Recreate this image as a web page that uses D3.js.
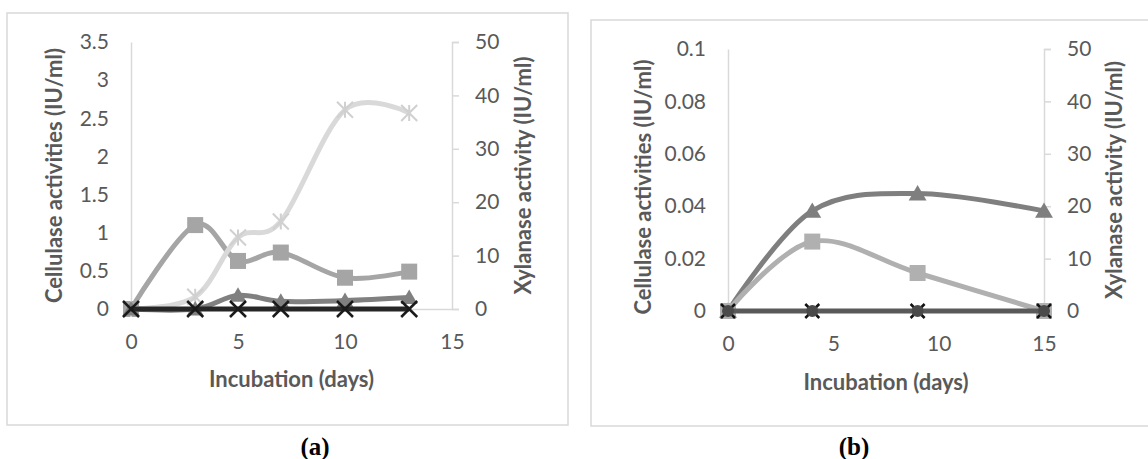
<!DOCTYPE html>
<html>
<head>
<meta charset="utf-8">
<script src="https://cdn.jsdelivr.net/npm/d3@7"></script>
<style>
  body { margin: 0; background: #fff; }
  svg { display: block; }
  text { font-family: Lato, "Open Sans", sans-serif; }
</style>
</head>
<body>
<svg id="chart" width="1148" height="459"></svg>
<script>
// panel (a)
const daysA = [0, 3, 5, 7, 10, 13];
const aSquare = [0, 1.1, 0.63, 0.74, 0.41, 0.49];     // left axis
const aStar = [0, 2.3, 13.4, 16.4, 37.3, 36.7];       // right axis
const aTriangle = [0, 0, 0.18, 0.1, 0.11, 0.15];      // left axis
const aCross = [0, 0, 0, 0, 0, 0];                    // left axis
const leftTicksA = [0, 0.5, 1, 1.5, 2, 2.5, 3, 3.5];

// panel (b)
const daysB = [0, 4, 9, 15];
const bTriangle = [0, 19.1, 22.4, 19.1];              // right axis
const bSquare = [0, 0.0265, 0.0145, 0];               // left axis
const bCross = [0, 0, 0, 0];                          // left axis
const leftTicksB = [0, 0.02, 0.04, 0.06, 0.08, 0.1];

const rightTicks = [0, 10, 20, 30, 40, 50];
const xTicks = [0, 5, 10, 15];

const svg = d3.select("#chart");
const labelColor = "#595959";
const axisColor = "#d9d9d9";
const tickFont = "21px";
const titleFont = "22px";

function star(g, x, y, s, color) {
  const h = s / 2;
  g.append("path")
    .attr("d", `M${x - h},${y - h}L${x + h},${y + h}M${x - h},${y + h}L${x + h},${y - h}M${x},${y - h}L${x},${y + h}`)
    .attr("stroke", color).attr("stroke-width", 2).attr("fill", "none");
}
function cross(g, x, y, s, color) {
  const h = s / 2;
  g.append("path")
    .attr("d", `M${x - h},${y - h}L${x + h},${y + h}M${x - h},${y + h}L${x + h},${y - h}`)
    .attr("stroke", color).attr("stroke-width", 2.5).attr("fill", "none");
}
function square(g, x, y, s, color) {
  g.append("rect").attr("x", x - s / 2).attr("y", y - s / 2)
    .attr("width", s).attr("height", s).attr("fill", color);
}
function triangle(g, x, y, s, color) {
  const h = s / 2;
  g.append("path")
    .attr("d", `M${x},${y - h}L${x + h * 1.05},${y + h * 0.8}L${x - h * 1.05},${y + h * 0.8}Z`)
    .attr("fill", color);
}
function dot(g, x, y, s, color) {
  g.append("circle").attr("cx", x).attr("cy", y).attr("r", s / 2).attr("fill", color);
}

function drawPanel(p) {
  const g = svg.append("g");

  g.append("rect")
    .attr("x", p.box[0]).attr("y", p.box[1])
    .attr("width", p.box[2]).attr("height", p.box[3])
    .attr("fill", "none").attr("stroke", axisColor).attr("stroke-width", 1.5);

  const x = d3.scaleLinear().domain([0, 15]).range([p.x0, p.x1]);
  const yL = d3.scaleLinear().domain([0, p.leftMax]).range([p.y0, p.y1]);
  const yR = d3.scaleLinear().domain([0, 50]).range([p.y0, p.y1]);

  // left axis
  const la = g.append("g").attr("transform", `translate(${p.x0},0)`)
    .call(d3.axisLeft(yL).tickValues(p.leftTicks).tickSize(0).tickPadding(22)
      .tickFormat(d => d3.format("~g")(d)));
  // right axis
  const ra = g.append("g").attr("transform", `translate(${p.x1},0)`)
    .call(d3.axisRight(yR).tickValues(rightTicks).tickSizeInner(7).tickSizeOuter(7).tickPadding(16));
  // bottom axis
  const ba = g.append("g").attr("transform", `translate(0,${p.y0})`)
    .call(d3.axisBottom(x).tickValues(xTicks).tickSize(0).tickPadding(25));

  [la, ra, ba].forEach(a => {
    a.selectAll("path.domain").attr("stroke", axisColor).attr("stroke-width", 1.5);
    a.selectAll(".tick line").attr("stroke", axisColor).attr("stroke-width", 1.5);
    a.selectAll("text").attr("fill", labelColor).style("font-size", tickFont)
      .style("font-family", "Lato, 'Open Sans', sans-serif");
  });

  const cy = (p.y0 + p.y1) / 2;
  g.append("text").attr("transform", `translate(${p.leftTitleX},${cy + p.titleShift}) rotate(-90)`)
    .attr("text-anchor", "middle").attr("dominant-baseline", "central")
    .attr("fill", labelColor).style("font-size", titleFont).style("font-weight", "bold")
    .text("Cellulase activities (IU/ml)");
  g.append("text").attr("transform", `translate(${p.rightTitleX},${cy}) rotate(-90)`)
    .attr("text-anchor", "middle").attr("dominant-baseline", "central")
    .attr("fill", labelColor).style("font-size", titleFont).style("font-weight", "bold")
    .text("Xylanase activity (IU/ml)");
  g.append("text").attr("x", (p.x0 + p.x1) / 2).attr("y", p.xTitleY)
    .attr("text-anchor", "middle").attr("dominant-baseline", "central")
    .attr("fill", labelColor).style("font-size", titleFont).style("font-weight", "bold")
    .text("Incubation (days)");
  g.append("text").attr("x", p.capX).attr("y", 446)
    .attr("text-anchor", "middle").attr("dominant-baseline", "central")
    .style("font-family", "'Liberation Serif', 'Times New Roman', serif")
    .style("font-size", "25px").style("font-weight", "bold").attr("fill", "#000")
    .text(p.caption);

  const line = d3.line().curve(d3.curveCardinal.tension(0));

  p.series.forEach(s => {
    const y = s.axis === "right" ? yR : yL;
    const pts = p.days.map((d, i) => [x(d), y(s.values[i])]);
    g.append("path").attr("d", line(pts)).attr("fill", "none")
      .attr("stroke", s.color).attr("stroke-width", s.width || 5)
      .attr("stroke-linejoin", "round");
    pts.forEach(pt => s.markers.forEach(m => m.fn(g, pt[0], pt[1], m.size, m.color)));
  });
}

drawPanel({
  box: [7, 13, 561, 412],
  x0: 131, x1: 452, y0: 309, y1: 42,
  leftMax: 3.5, leftTicks: leftTicksA,
  days: daysA,
  leftTitleX: 53, rightTitleX: 522, titleShift: 0, xTitleY: 378,
  capX: 315, caption: "(a)",
  series: [
    { values: aSquare, axis: "left", color: "#a5a5a5", markers: [{ fn: square, size: 16, color: "#a5a5a5" }] },
    { values: aStar, axis: "right", color: "#d9d9d9", markers: [{ fn: star, size: 16, color: "#d0d0d0" }] },
    { values: aTriangle, axis: "left", color: "#808080", markers: [{ fn: triangle, size: 16, color: "#808080" }] },
    { values: aCross, axis: "left", color: "#262626", markers: [{ fn: cross, size: 16, color: "#1a1a1a" }] }
  ]
});

drawPanel({
  box: [591, 20, 570, 406],
  x0: 728, x1: 1044, y0: 311, y1: 49,
  leftMax: 0.1, leftTicks: leftTicksB,
  days: daysB,
  leftTitleX: 642, rightTitleX: 1113, titleShift: 7, xTitleY: 381,
  capX: 854, caption: "(b)",
  series: [
    { values: bTriangle, axis: "right", color: "#7f7f7f", markers: [{ fn: triangle, size: 17, color: "#7f7f7f" }] },
    { values: bSquare, axis: "left", color: "#b0b0b0", markers: [{ fn: square, size: 16, color: "#b0b0b0" }] },
    { values: bCross, axis: "left", color: "#595959", markers: [{ fn: cross, size: 14, color: "#111" }, { fn: dot, size: 12, color: "#4a4a4a" }] }
  ]
});
</script>
</body>
</html>
